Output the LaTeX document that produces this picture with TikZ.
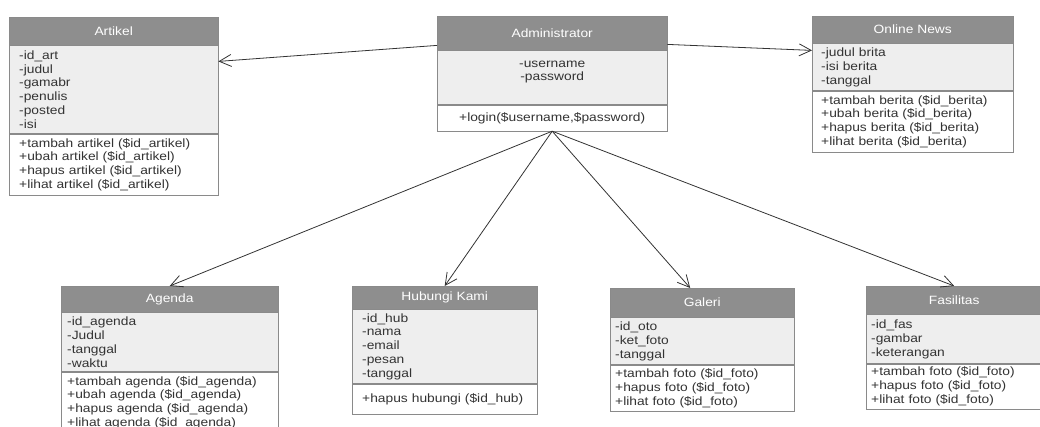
\documentclass[tikz,border=0pt]{standalone}
\usepackage{fontspec}
\setmainfont{Liberation Sans}[FakeStretch=1.15]
\usetikzlibrary{arrows.meta}

\definecolor{hdrgray}{HTML}{8E8E8E}
\definecolor{attrgray}{HTML}{EEEEEE}
\definecolor{boxline}{HTML}{8A8A8A}
\definecolor{txtgray}{HTML}{333333}
\definecolor{linegray}{HTML}{333333}

\tikzset{
    classfont/.style={font=\fontsize{12}{13.8}\selectfont},
    hdr/.style={draw=boxline, fill=hdrgray, text=white, anchor=north west, inner sep=0pt, align=center, classfont},
    sect/.style={draw=boxline, anchor=north west, inner xsep=7pt, inner ysep=2pt, align=left, text=txtgray, classfont},
    attr/.style={sect, fill=attrgray},
    oper/.style={sect, fill=white},
    assoc/.style={draw=linegray, line width=0.8pt, -{Straight Barb[length=12pt,width=12pt]}}
}

\begin{document}
\begin{tikzpicture}[x=1pt, y=-1pt]
    \useasboundingbox (0,0) rectangle (1040,426);

    % Administrator
    \node[hdr, minimum width=230pt, minimum height=34pt] (admH) at (437,16) {Administrator};
    \node[attr, text width=216pt, minimum height=54pt, align=center] (admA) at (admH.south west) {-username\\-password\\\mbox{}};
    \node[oper, text width=216pt, minimum height=26pt, align=center] (admO) at (admA.south west) {+login(\$username,\$password)};

    % Artikel
    \node[hdr, minimum width=209pt, minimum height=28pt] (artH) at (9,17) {Artikel};
    \node[attr, inner xsep=10pt, text width=189pt, minimum height=88pt] (artA) at (artH.south west) {-id\_art\\-judul\\-gamabr\\-penulis\\-posted\\-isi};
    \node[oper, inner xsep=10pt, text width=189pt, minimum height=61pt] (artO) at (artA.south west) {+tambah artikel (\$id\_artikel)\\+ubah artikel (\$id\_artikel)\\+hapus artikel (\$id\_artikel)\\+lihat artikel (\$id\_artikel)};

    % Online News
    \node[hdr, minimum width=201pt, minimum height=27pt] (newsH) at (812,16) {Online News};
    \node[attr, inner xsep=9pt, text width=183pt, minimum height=47pt] (newsA) at (newsH.south west) {-judul brita\\-isi berita\\-tanggal};
    \node[oper, inner xsep=9pt, text width=183pt, minimum height=61pt] (newsO) at (newsA.south west) {+tambah berita (\$id\_berita)\\+ubah berita (\$id\_berita)\\+hapus berita (\$id\_berita)\\+lihat berita (\$id\_berita)};

    % Agenda
    \node[hdr, minimum width=217pt, minimum height=26pt] (agH) at (61,286) {Agenda};
    \node[attr, inner xsep=6pt, text width=205pt, minimum height=59pt] (agA) at (agH.south west) {-id\_agenda\\-Judul\\-tanggal\\-waktu};
    \node[oper, inner xsep=6pt, text width=205pt, minimum height=61pt] (agO) at (agA.south west) {+tambah agenda (\$id\_agenda)\\+ubah agenda (\$id\_agenda)\\+hapus agenda (\$id\_agenda)\\+lihat agenda (\$id\_agenda)};

    % Hubungi Kami
    \node[hdr, minimum width=185pt, minimum height=23pt] (hubH) at (352,286) {Hubungi Kami};
    \node[attr, inner xsep=10pt, text width=165pt, minimum height=74pt] (hubA) at (hubH.south west) {-id\_hub\\-nama\\-email\\-pesan\\-tanggal};
    \node[oper, inner xsep=10pt, text width=165pt, minimum height=30pt] (hubO) at (hubA.south west) {+hapus hubungi (\$id\_hub)};

    % Galeri
    \node[hdr, minimum width=184pt, minimum height=29pt] (galH) at (610,288) {Galeri};
    \node[attr, inner xsep=5pt, text width=174pt, minimum height=47pt] (galA) at (galH.south west) {-id\_oto\\-ket\_foto\\-tanggal};
    \node[oper, inner xsep=5pt, text width=174pt, minimum height=46pt] (galO) at (galA.south west) {+tambah foto (\$id\_foto)\\+hapus foto (\$id\_foto)\\+lihat foto (\$id\_foto)};

    % Fasilitas
    \node[hdr, minimum width=176pt, minimum height=28pt] (fasH) at (866,286) {Fasilitas};
    \node[attr, inner xsep=5pt, text width=166pt, minimum height=49pt] (fasA) at (fasH.south west) {-id\_fas\\-gambar\\-keterangan};
    \node[oper, inner xsep=5pt, text width=166pt, minimum height=45pt] (fasO) at (fasA.south west) {+tambah foto (\$id\_foto)\\+hapus foto (\$id\_foto)\\+lihat foto (\$id\_foto)};

    % associations
    \draw[assoc] ([yshift=5pt]admH.south west) -- ([yshift=-16pt]artA.north east);
    \draw[assoc] ([yshift=6pt]admH.south east) -- ([yshift=-7pt]newsA.north west);
    \draw[assoc] (admO.south) -- (agH.north);
    \draw[assoc] (admO.south) -- (hubH.north);
    \draw[assoc] (admO.south) -- ([xshift=-12pt]galH.north);
    \draw[assoc] (admO.south) -- (fasH.north);
\end{tikzpicture}
\end{document}
